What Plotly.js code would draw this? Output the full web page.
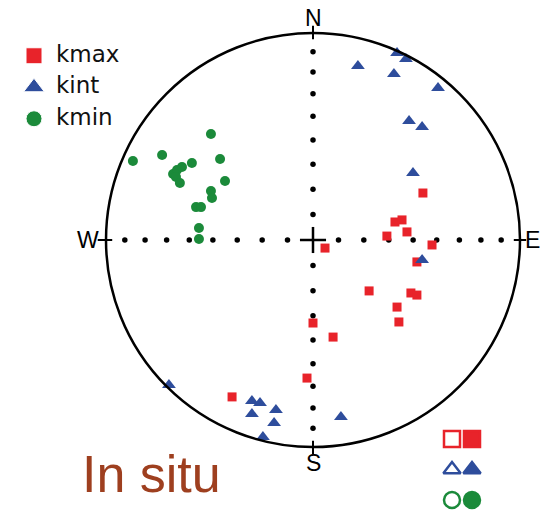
<!DOCTYPE html>
<html>
<head>
<meta charset="utf-8">
<script src="https://cdn.plot.ly/plotly-3.0.1.min.js"></script>
<style>html,body{margin:0;padding:0;background:#fff;}#chart{width:548px;height:512px;}</style>
</head>
<body>
<div id="chart"></div>
<script>
// Equal-area stereonet positions (unit circle: x = East, y = North)
const kmaxX = [0.531, 0.396, 0.430, 0.454, 0.357, 0.575, 0.058, 0.502, 0.271, 0.473, 0.502, 0.406, 0.415, 0.000, 0.097, -0.029, -0.391];
const kmaxY = [0.227, 0.087, 0.097, 0.039, 0.019, -0.024, -0.039, -0.106, -0.246, -0.256, -0.266, -0.324, -0.396, -0.401, -0.469, -0.667, -0.758];

const kintX = [0.406, 0.449, 0.217, 0.391, 0.604, 0.464, 0.527, 0.483, 0.527, -0.696, -0.295, -0.256, -0.295, -0.179, -0.188, -0.242, 0.135];
const kintY = [0.903, 0.874, 0.841, 0.802, 0.734, 0.575, 0.546, 0.324, -0.097, -0.700, -0.778, -0.787, -0.841, -0.821, -0.884, -0.952, -0.855];

const kminX = [-0.493, -0.870, -0.729, -0.585, -0.449, -0.676, -0.657, -0.633, -0.662, -0.643, -0.425, -0.493, -0.488, -0.565, -0.541, -0.551, -0.551];
const kminY = [0.512, 0.382, 0.411, 0.372, 0.391, 0.319, 0.338, 0.353, 0.304, 0.275, 0.285, 0.237, 0.203, 0.159, 0.159, 0.058, 0.005];

const seriesNames = ['kmax', 'kint', 'kmin'];
const gridDips = [10, 20, 30, 40, 50, 60, 70, 80];
const directions = ['N', 'E', 'S', 'W'];
const keyStates = ['open', 'filled'];

const RED = '#e8232a', BLUE = '#2e4d9c', GREEN = '#1b8a3a';
const colors = [RED, BLUE, GREEN];
const symbols = ['square', 'triangle-up', 'circle'];

// graticule dots along N-S and E-W at 10 degree plunge steps (equal-area)
const radii = gridDips.map(d => Math.SQRT2 * Math.sin((90 - d) / 2 * Math.PI / 180));
const dotX = [], dotY = [];
radii.forEach(r => {
  dotX.push(r, -r, 0, 0);
  dotY.push(0, 0, r, -r);
});

const traces = [];
traces.push({x: dotX, y: dotY, mode: 'markers', type: 'scatter', hoverinfo: 'skip',
  marker: {symbol: 'circle', size: 5.5, color: '#000', opacity: 1}, showlegend: false});

traces.push({x: kminX, y: kminY, mode: 'markers', type: 'scatter', name: 'kmin',
  marker: {symbol: 'circle', size: 10, color: GREEN, opacity: 1}, showlegend: false});
traces.push({x: kmaxX, y: kmaxY, mode: 'markers', type: 'scatter', name: 'kmax',
  marker: {symbol: 'square', size: 9, color: RED, opacity: 1}, showlegend: false});
traces.push({x: kintX, y: kintY, mode: 'markers', type: 'scatter', name: 'kint',
  marker: {symbol: 'triangle-up', size: 12, color: BLUE, opacity: 1}, showlegend: false});

// top-left key
const keyRows = [0, 1, 2];
traces.push({x: keyRows.map(() => 0), y: keyRows, xaxis: 'x3', yaxis: 'y3', mode: 'markers', type: 'scatter',
  hoverinfo: 'skip', showlegend: false,
  marker: {symbol: symbols, size: [16, 18, 16], color: colors, opacity: 1}});
traces.push({x: keyRows.map(() => 22), y: keyRows, xaxis: 'x3', yaxis: 'y3', mode: 'text', type: 'scatter',
  hoverinfo: 'skip', showlegend: false, text: seriesNames, textposition: 'middle right',
  textfont: {family: 'DejaVu Sans', size: 23, color: '#111'}});

// bottom-right key (open / filled)
keyStates.forEach((st, j) => {
  traces.push({x: keyRows.map(() => j), y: keyRows, xaxis: 'x4', yaxis: 'y4', mode: 'markers', type: 'scatter',
    hoverinfo: 'skip', showlegend: false,
    marker: {symbol: symbols.map(s => st === 'open' ? s + '-open' : s), size: [16, 15, 16], color: colors,
      opacity: 1, line: {width: 2.5, color: colors}}});
});

const shapes = [
  {type: 'circle', xref: 'x', yref: 'y', x0: -1, x1: 1, y0: -1, y1: 1, line: {color: '#000', width: 2.5}},
  {type: 'line', xref: 'x', yref: 'y', x0: -0.063, x1: 0.063, y0: 0, y1: 0, line: {color: '#000', width: 2.5}},
  {type: 'line', xref: 'x', yref: 'y', x0: 0, x1: 0, y0: -0.063, y1: 0.063, line: {color: '#000', width: 2.5}},
  {type: 'line', xref: 'x', yref: 'y', x0: 0, x1: 0, y0: 0.97, y1: 1.035, line: {color: '#000', width: 2}},
  {type: 'line', xref: 'x', yref: 'y', x0: 0, x1: 0, y0: -0.97, y1: -1.035, line: {color: '#000', width: 2}},
  {type: 'line', xref: 'x', yref: 'y', x0: 0.97, x1: 1.03, y0: 0, y1: 0, line: {color: '#000', width: 2}},
  {type: 'line', xref: 'x', yref: 'y', x0: -0.97, x1: -1.04, y0: 0, y1: 0, line: {color: '#000', width: 2}}
];

const dirPos = {N: [0, 1.072], E: [1.058, 0], S: [0, -1.077], W: [-1.087, 0]};
const annotations = directions.map(d => ({
  x: dirPos[d][0], y: dirPos[d][1], xref: 'x', yref: 'y', text: d, showarrow: false,
  xanchor: 'center', yanchor: 'middle', font: {family: 'Liberation Sans', size: 23, color: '#000'}
}));
annotations.push({x: 80 / 548, y: (512 - 474) / 512, xref: 'paper', yref: 'paper', text: 'In situ',
  showarrow: false, xanchor: 'left', yanchor: 'middle',
  font: {family: 'Liberation Sans', size: 52, color: '#9e3f1f'}});

const hidden = {visible: false, fixedrange: true, showgrid: false, zeroline: false};
const layout = {
  width: 548, height: 512,
  margin: {l: 0, r: 0, t: 0, b: 0},
  paper_bgcolor: '#fff', plot_bgcolor: 'rgba(0,0,0,0)',
  showlegend: false,
  xaxis: Object.assign({range: [-313 / 207, 235 / 207], domain: [0, 1]}, hidden),
  yaxis: Object.assign({range: [-272 / 207, 240 / 207], domain: [0, 1]}, hidden),
  xaxis3: Object.assign({range: [-34, 130.4], domain: [0, 0.3], anchor: 'y3'}, hidden),
  yaxis3: Object.assign({range: [2.5, -0.5], domain: [(512 - 134.5) / 512, (512 - 40) / 512], anchor: 'x3'}, hidden),
  xaxis4: Object.assign({range: [-0.5, 1.5], domain: [442 / 548, 482 / 548], anchor: 'y4'}, hidden),
  yaxis4: Object.assign({range: [2.393, -0.492], domain: [0, 88 / 512], anchor: 'x4'}, hidden),
  shapes: shapes,
  annotations: annotations
};

Plotly.newPlot('chart', traces, layout, {displayModeBar: false, staticPlot: true});
</script>
</body>
</html>
